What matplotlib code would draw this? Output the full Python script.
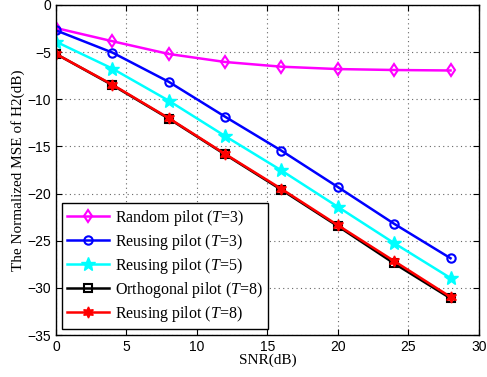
import numpy as np
import matplotlib.pyplot as plt

plt.rcParams['mathtext.fontset'] = 'custom'
plt.rcParams['mathtext.it'] = 'Liberation Serif:italic'
plt.rcParams['mathtext.rm'] = 'Liberation Serif'

snr = [0, 4, 8, 12, 16, 20, 24, 28]
random_t3 = [-2.45, -3.85, -5.2, -6.05, -6.55, -6.8, -6.9, -6.95]
reuse_t3 = [-2.7, -5.05, -8.15, -11.85, -15.45, -19.3, -23.2, -26.85]
reuse_t5 = [-3.9, -6.75, -10.15, -13.9, -17.55, -21.4, -25.25, -28.95]
orth_t8 = [-5.2, -8.5, -12.05, -15.85, -19.6, -23.45, -27.4, -31.1]
reuse_t8 = [-5.2, -8.45, -12.0, -15.8, -19.5, -23.35, -27.15, -30.95]

fig = plt.figure(figsize=(4.87, 3.77), dpi=100)
ax = fig.add_axes([0.115, 0.111, 0.868, 0.876])

lw = 1.8
ax.plot(snr, random_t3, color='magenta', lw=lw, marker='d', ms=6, mfc='none', mew=1.5,
        label='Random pilot ($\\mathit{T}$=$\\mathit{3}$)')
ax.plot(snr, reuse_t3, color='blue', lw=lw, marker='o', ms=6, mfc='none', mew=1.5,
        label='Reusing pilot ($\\mathit{T}$=$\\mathit{3}$)')
ax.plot(snr, reuse_t5, color='cyan', lw=lw, marker='*', ms=10, mew=1.0,
        label='Reusing pilot ($\\mathit{T}$=$\\mathit{5}$)')
ax.plot(snr, orth_t8, color='black', lw=lw, marker='s', ms=5.5, mfc='none', mew=1.5,
        label='Orthogonal pilot ($\\mathit{T}$=$\\mathit{8}$)')
ax.plot(snr, reuse_t8, color='red', lw=lw, marker=(6, 1, 0), ms=8, mew=1.0,
        label='Reusing pilot ($\\mathit{T}$=$\\mathit{8}$)')

ax.set_xlim(0, 30)
ax.set_ylim(-35, 0)
ax.set_xticks([0, 5, 10, 15, 20, 25, 30])
ax.set_yticks(np.arange(-35, 1, 5))
ax.grid(True, linestyle=(0, (1, 3)), color='#666666', lw=0.8)
ax.tick_params(direction='in', top=True, right=True, labelsize=10, length=4)
for lab in ax.get_xticklabels() + ax.get_yticklabels():
    lab.set_family('Liberation Sans')
for s in ax.spines.values():
    s.set_linewidth(1.0)

ax.set_xlabel('SNR(dB)', family='Liberation Serif', fontsize=11, labelpad=0)
ax.set_ylabel('The Normalized MSE of H2(dB)', family='Liberation Serif', fontsize=11, labelpad=2)

leg = ax.legend(loc='lower left', prop={'family': 'Liberation Serif', 'size': 11.5},
                fancybox=False, edgecolor='black', framealpha=1,
                handlelength=2.6, borderaxespad=0.4, labelspacing=0.25, borderpad=0.3,
                handletextpad=0.4)
leg.get_frame().set_linewidth(1.0)

fig.savefig('out.png', dpi=100)
